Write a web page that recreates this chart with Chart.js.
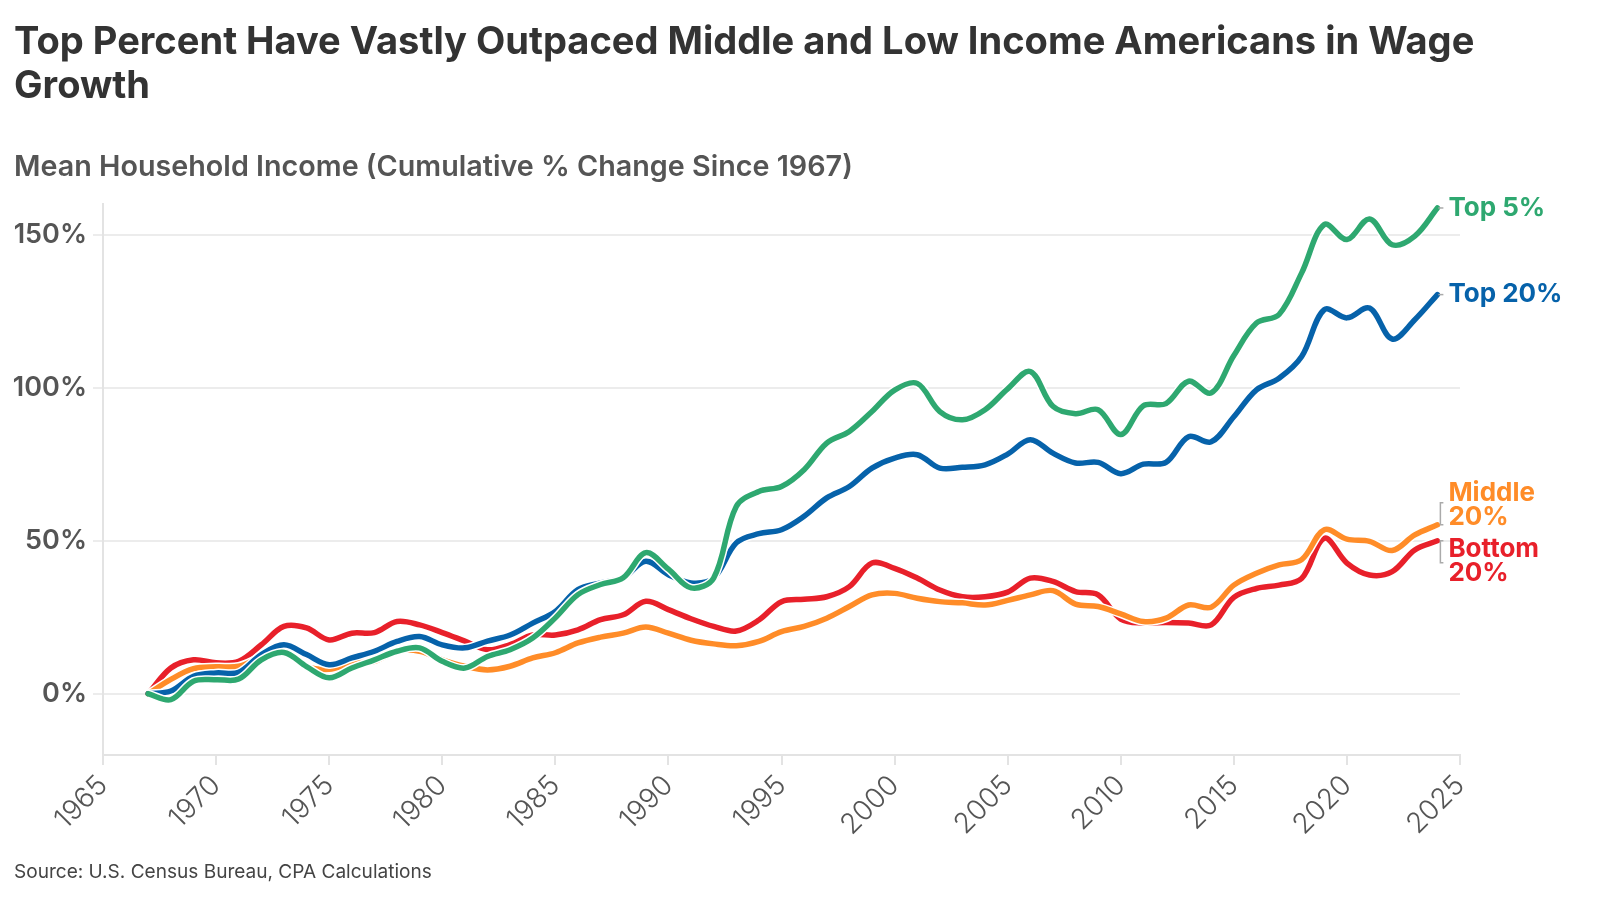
<!DOCTYPE html>
<html>
<head>
<meta charset="utf-8">
<script src="https://cdn.jsdelivr.net/npm/chart.js@4.4.1/dist/chart.umd.min.js"></script>
<style>
html,body{margin:0;padding:0;background:#fff;}
#wrap{position:relative;width:1600px;height:900px;overflow:hidden;font-family:Inter,"Noto Sans",sans-serif;}
#c{position:absolute;left:0;top:0;}
.t{position:absolute;left:14px;white-space:nowrap;}
#title{top:18px;font-weight:700;color:#333;font-size:38px;line-height:44px;}
#sub{top:151px;font-weight:600;color:#555;font-size:26px;line-height:30px;}
#src{top:861px;font-weight:400;color:#444;font-size:18px;line-height:22px;}
</style>
</head>
<body>
<div id="wrap">
<canvas id="c" width="1600" height="900"></canvas>
<div id="title" class="t"><span id="t1">Top Percent Have Vastly Outpaced Middle and Low Income Americans in Wage</span><br><span>Growth</span></div>
<div id="sub" class="t"><span id="s1">Mean Household Income (Cumulative % Change Since 1967)</span></div>
<div id="src" class="t"><span id="r1">Source: U.S. Census Bureau, CPA Calculations</span></div>
</div>
<script>
// ---- data ----
const years = [1967,1968,1969,1970,1971,1972,1973,1974,1975,1976,1977,1978,1979,1980,1981,1982,1983,1984,1985,1986,1987,1988,1989,1990,1991,1992,1993,1994,1995,1996,1997,1998,1999,2000,2001,2002,2003,2004,2005,2006,2007,2008,2009,2010,2011,2012,2013,2014,2015,2016,2017,2018,2019,2020,2021,2022,2023,2024];
const top5 = [0,-1.9,4.1,4.6,4.8,11.1,13.5,8.9,5.2,8.4,11.1,13.9,15.0,10.6,8.4,12.2,14.4,18.2,24.8,32.4,35.7,37.9,46.1,40.7,34.6,37.8,61.2,66.1,67.7,73.2,81.9,85.7,92.2,99.2,101.4,92.2,89.5,92.8,99.6,105.3,93.9,91.5,92.8,84.7,94.1,94.8,102.1,98.3,110.5,121.1,123.9,137.5,153.3,148.4,155.1,146.7,149.5,158.7];
const top20 = [0,0.9,5.7,6.8,7.0,12.8,16.0,12.8,9.5,11.7,13.9,17.1,18.7,16.0,15.0,17.2,19.2,23.1,26.9,34.0,36.2,37.9,43.3,38.9,36.2,37.8,49.3,52.3,53.6,58.0,64.0,67.7,73.7,77.0,78.1,73.7,74.0,74.8,78.3,83.0,78.6,75.4,75.6,71.9,75.0,75.6,84.0,82.3,90.5,99.3,103.1,110.2,125.5,122.8,126.0,115.9,122.2,130.4];
const middle20 = [0,4.7,8.2,8.8,9.0,12.0,14.0,9.0,8.0,10.0,10.6,13.9,13.9,11.1,9.0,7.8,9.0,11.7,13.4,16.6,18.5,19.8,21.8,19.8,17.5,16.3,15.7,17.1,20.3,22.0,24.7,28.5,32.3,32.8,31.2,30.1,29.7,29.0,30.5,32.3,33.7,29.3,28.5,26.1,23.6,24.7,29.0,28.3,35.5,39.4,42.1,43.8,53.6,50.5,49.8,46.8,51.9,55.2];
const bottom20 = [0,8.4,11.1,10.1,10.6,16.0,22.0,21.5,17.6,19.8,20.0,23.6,22.5,20.0,17.2,14.4,16.1,19.2,19.2,20.9,24.2,25.8,30.2,27.5,24.5,22.0,20.5,24.1,30.1,30.9,31.7,35.0,42.7,41.0,37.8,33.9,31.7,31.7,33.2,37.8,36.7,33.4,32.3,24.4,23.1,23.3,23.1,22.5,31.5,34.4,35.5,37.7,50.8,42.7,38.8,39.9,47.0,50.0];
const seriesNames = ['Top 5%','Top 20%','Middle 20%','Bottom 20%'];
const seriesLabelLines = [['Top 5%'],['Top 20%'],['Middle','20%'],['Bottom','20%']];
const xTicks = [1965,1970,1975,1980,1985,1990,1995,2000,2005,2010,2015,2020,2025];
const yTicks = [0,50,100,150];

// ---- styles ----
const seriesValues = [top5, top20, middle20, bottom20];
const colors = ['#2ea870','#0662aa','#ff8c28','#e8202a'];
const labelShift = [0, 0, -20, 20];
const bracketLen = [0, 0, -22, 22];

function fit(id, target){
  const el = document.getElementById(id);
  const parent = el.parentElement;
  const fs = parseFloat(getComputedStyle(parent).fontSize);
  const w = el.getBoundingClientRect().width;
  parent.style.fontSize = (fs * target / w) + 'px';
}

const pts = vals => years.map((y,i)=>({x:y, y:vals[i]}));
const datasets = [];
const mainIdx = [];
seriesValues.forEach((vals,k)=>{
  datasets.push({label:seriesNames[k]+' halo', data:pts(vals), borderColor:'#ffffff', borderWidth:8.5, pointRadius:0, tension:0.35, fill:false, order:2*k+2});
  mainIdx.push(datasets.length);
  datasets.push({label:seriesNames[k], data:pts(vals), borderColor:colors[k], borderWidth:5.5, pointRadius:0, tension:0.35, fill:false, order:2*k+1, borderCapStyle:'round'});
});

const endLabels = {
  id:'endLabels',
  afterDatasetsDraw(chart){
    const ctx = chart.ctx;
    ctx.save();
    mainIdx.forEach((di,k)=>{
      const meta = chart.getDatasetMeta(di);
      const p = meta.data[meta.data.length-1];
      const ex = p.x, ey = p.y;
      ctx.strokeStyle = '#aaaaaa';
      ctx.lineWidth = 1.5;
      ctx.beginPath();
      if (bracketLen[k] === 0){
        ctx.moveTo(ex+1, ey); ctx.lineTo(ex+6, ey);
      } else {
        const y1 = ey + bracketLen[k];
        ctx.moveTo(ex+6, ey); ctx.lineTo(ex+3, ey); ctx.lineTo(ex+3, y1); ctx.lineTo(ex+6, y1);
      }
      ctx.stroke();
      const lines = seriesLabelLines[k];
      const lh = 24;
      const cy = ey + labelShift[k];
      ctx.fillStyle = colors[k];
      ctx.font = '700 26px Inter, "Noto Sans", sans-serif';
      ctx.textBaseline = 'middle';
      ctx.textAlign = 'left';
      lines.forEach((ln,j)=>{
        const y = cy + (j - (lines.length-1)/2) * lh;
        ctx.fillText(ln, ex+11, y);
      });
    });
    ctx.restore();
  }
};

function draw(){
  fit('t1', 1461);
  fit('s1', 839);
  fit('r1', 418);
  new Chart(document.getElementById('c'), {
    type:'line',
    data:{datasets},
    options:{
      responsive:false,
      devicePixelRatio:1,
      animation:false,
      layout:{padding:{top:204,right:140,bottom:45,left:0}},
      plugins:{legend:{display:false},tooltip:{enabled:false},title:{display:false}},
      scales:{
        x:{
          type:'linear', min:1965, max:2025,
          afterBuildTicks:s=>{ s.ticks = xTicks.map(v=>({value:v})); },
          afterFit:s=>{ s.height = 100; },
          ticks:{minRotation:45,maxRotation:45,color:'#555',padding:4,font:{family:'Inter',size:28,weight:'300'},callback:v=>String(v)},
          grid:{drawOnChartArea:false,drawTicks:true,tickLength:10,color:'#e3e3e3',lineWidth:2},
          border:{display:true,color:'#e3e3e3',width:2}
        },
        y:{
          type:'linear', min:-20, max:160,
          afterBuildTicks:s=>{ s.ticks = yTicks.map(v=>({value:v})); },
          afterFit:s=>{ s.width = 103; },
          ticks:{color:'#555',padding:6,font:{family:'Inter',size:27,weight:'600'},callback:v=>v+'%'},
          grid:{color:'#ececec',lineWidth:2,drawTicks:true,tickLength:10},
          border:{display:true,color:'#e3e3e3',width:2}
        }
      }
    },
    plugins:[endLabels]
  });
}
if (document.fonts && document.fonts.ready){
  document.fonts.load('700 26px Inter').then(()=>document.fonts.load('600 27px Inter')).then(()=>document.fonts.load('300 28px Inter')).then(()=>document.fonts.ready).then(draw);
} else { draw(); }
</script>
</body>
</html>
